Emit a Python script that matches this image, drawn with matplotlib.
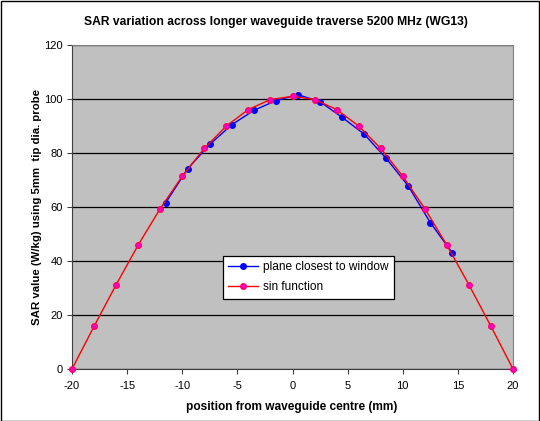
import matplotlib.pyplot as plt
from matplotlib.patches import Rectangle

plt.rcParams['font.family'] = ['Liberation Sans', 'DejaVu Sans']
plt.rcParams['axes.unicode_minus'] = False

# sin function reference, every 2 mm
sin_x = [-20, -18, -16, -14, -12, -10, -8, -6, -4, -2, 0,
         2, 4, 6, 8, 10, 12, 14, 16, 18, 20]
sin_y = [0, 15.8, 31.2, 45.9, 59.4, 71.4, 81.7, 90.0, 96.1, 99.8, 101.0,
         99.8, 96.1, 90.0, 81.7, 71.4, 59.4, 45.9, 31.2, 15.8, 0]

# measured plane closest to window
meas_x = [-11.5, -9.5, -7.5, -5.5, -3.5, -1.5, 0.5, 2.5, 4.5, 6.5,
          8.5, 10.5, 12.5, 14.5]
meas_y = [61.6, 74.2, 83.2, 90.5, 95.8, 99.4, 101.6, 99.0, 93.2, 87.0,
          78.0, 67.8, 54.2, 43.0]

W, H = 540, 421
fig = plt.figure(figsize=(W / 100, H / 100), dpi=100)
fig.patch.set_facecolor('white')
fig.patches.append(Rectangle((0.5 / W, 0.5 / H), 1 - 1.5 / W, 1 - 1.5 / H,
                             transform=fig.transFigure, fill=False,
                             edgecolor='black', linewidth=1.0))

ax = fig.add_axes([72 / W, 1 - 369 / H, (513 - 72) / W, (369 - 45) / H])
ax.set_facecolor('#C0C0C0')
ax.set_xlim(-20, 20)
ax.set_ylim(0, 120)
ax.set_xticks(range(-20, 21, 5))
ax.set_yticks(range(0, 121, 20))
ax.yaxis.grid(True, color='black', linewidth=0.9)
ax.set_axisbelow(True)
for side in ['top', 'right']:
    ax.spines[side].set_color('#808080')
for side in ['left', 'bottom']:
    ax.spines[side].set_color('#404040')
ax.tick_params(direction='out', length=3.5, width=0.8, labelsize=8,
               color='#404040', pad=3)
ax.tick_params(axis='x', pad=5)

ax.plot(meas_x, meas_y, color='#0000FF', linewidth=1.0, marker='o',
        markersize=4, markerfacecolor='#0000FF', markeredgecolor='#0000FF',
        label='plane closest to window', zorder=3, clip_on=False)
ax.plot(sin_x, sin_y, color='#FF0000', linewidth=1.0, marker='o',
        markersize=4, markerfacecolor='#FF00CC', markeredgecolor='#FF0066',
        label='sin function', zorder=4, clip_on=False)

leg = ax.legend(loc='upper left', bbox_to_anchor=((223 - 72) / 441, (369 - 256) / 324),
                fontsize=8.6, frameon=True, fancybox=False, borderpad=0.45,
                handlelength=2.5, handletextpad=0.4, labelspacing=0.65,
                borderaxespad=0)
leg.get_frame().set_edgecolor('black')
leg.get_frame().set_linewidth(0.9)
leg.get_frame().set_facecolor('white')
leg.get_frame().set_alpha(1)

fig.text(276 / W, 1 - 22 / H, 'SAR variation across longer waveguide traverse 5200 MHz (WG13)',
         ha='center', va='center', fontsize=8.7, fontweight='bold')
fig.text(292 / W, 1 - 407 / H, 'position from waveguide centre (mm)',
         ha='center', va='center', fontsize=8.6, fontweight='bold')
fig.text(37 / W, 1 - 207 / H, 'SAR value (W/kg) using 5mm  tip dia. probe',
         ha='center', va='center', rotation=90, fontsize=8.2, fontweight='bold')

fig.savefig('out.png', dpi=100)
